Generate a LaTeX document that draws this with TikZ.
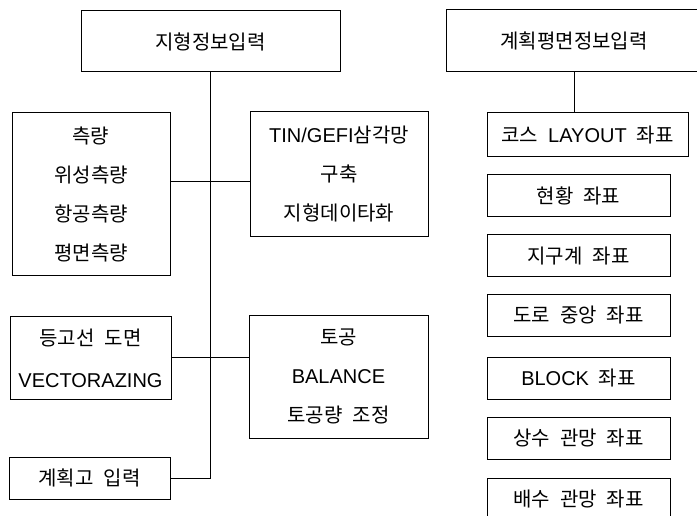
\documentclass[tikz,border=0pt]{standalone}
\usepackage{fontspec}
\newfontfamily\kr[WordSpace=2.2]{Noto Sans CJK KR}
\newfontfamily\lat{Liberation Sans}

\begin{document}
\begin{tikzpicture}[x=1pt, y=-1pt, line width=1pt,
		box/.style={draw, inner sep=0pt, align=center, font=\kr\fontsize{20}{39}\selectfont},
		item/.style={box, minimum width=183pt, minimum height=42pt}]
			%%%%% START %%%%%
			\useasboundingbox (0, 0) rectangle (697, 516);
			
			\node[box, minimum width=259pt, minimum height=61pt] (topo) at (210.5, 41.5) {지형정보입력};
			\node[box, minimum width=158pt, minimum height=163pt] (survey) at (91, 194.5) {측량\\위성측량\\항공측량\\평면측량};
			\node[box, minimum width=178pt, minimum height=125pt] (tin) at (339, 174.5) {{\lat TIN/GEFI}삼각망\\구축\\지형데이타화};
			\node[box, minimum width=161pt, minimum height=83pt] (contour) at (90.5, 358) {등고선 도면\\[3pt]{\lat VECTORAZING}};
			\node[box, minimum width=179pt, minimum height=123pt] (earth) at (338.5, 376.5) {토공\\{\lat BALANCE}\\토공량 조정};
			\node[box, minimum width=161pt, minimum height=42pt] (height) at (89.5, 478) {계획고 입력};
			
			\draw (topo.south) -- (topo.south |- height.east) -- (height.east);
			\draw ([yshift=12.5pt]survey.east) -- ([yshift=-7.5pt]tin.west);
			\draw ([yshift=1pt]contour.east) -- ([yshift=19.5pt]earth.west);
			
			\node[box, minimum width=256pt, minimum height=62pt] (plan) at (574, 41) {계획평면정보입력};
			\node[box, minimum width=201pt, minimum height=44pt] (course) at (587.5, 135) {코스 {\lat LAYOUT} 좌표};
			\node[item] (status) at (578.5, 195.5) {현황 좌표};
			\node[item] (district) at (578.5, 256) {지구계 좌표};
			\node[item] (road) at (578.5, 315) {도로 중앙 좌표};
			\node[item] (block) at (578.5, 378) {{\lat BLOCK} 좌표};
			\node[item] (water) at (578.5, 438) {상수 관망 좌표};
			\node[item] (sewer) at (578.5, 499) {배수 관망 좌표};
			
			\draw (plan.south) -- (plan.south |- course.north);
			
			%%%%% END %%%%%
\end{tikzpicture}
\end{document}
